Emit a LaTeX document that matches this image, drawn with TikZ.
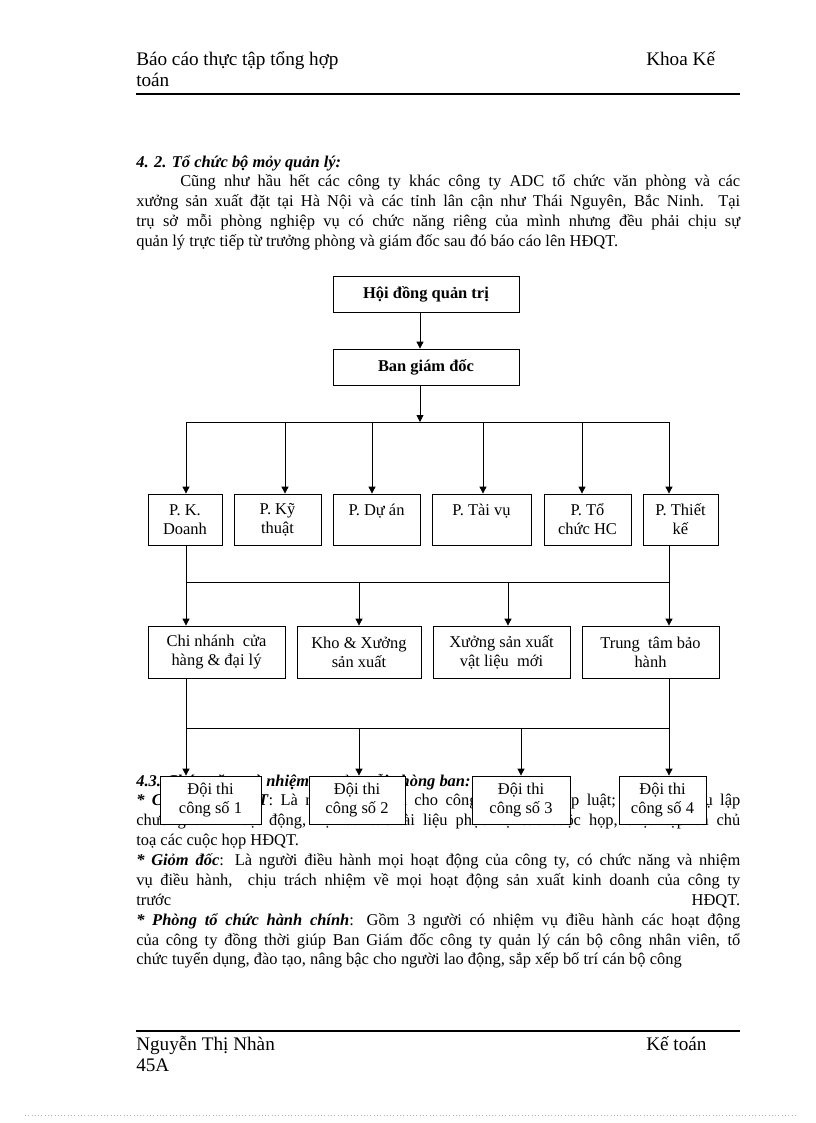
\documentclass[tikz,border=0pt]{standalone}
\usepackage{fontspec}
\setmainfont{Liberation Serif}
\usetikzlibrary{arrows.meta,positioning,calc}
\newcommand{\pxu}{0.7295pt}
\tikzset{
  orgbox/.style={draw=black,line width=0.6pt,fill=white,align=center,inner sep=0pt,
    font=\fontsize{12}{14}\selectfont},
  topbox/.style={orgbox,font=\fontsize{12}{14}\selectfont\bfseries},
  boxsize/.style 2 args={minimum width=#1*\pxu,minimum height=#2*\pxu},
  flowarrow/.style={-{Triangle[length=5pt,width=5pt]},line width=0.6pt},
  flowline/.style={line width=0.6pt},
  pagetext/.style={font=\fontsize{12}{14.5}\selectfont,text width=440.6pt,align=justify,
    inner sep=0pt,anchor=base west},
  headtext/.style={font=\fontsize{14}{16}\selectfont,inner sep=0pt,anchor=base west}
}
\newcommand{\bi}[1]{\textbf{\textit{#1}}}

\begin{document}
\begin{tikzpicture}[x=0.7295pt,y=-0.7295pt]
  \path[use as bounding box,fill=white] (0,0) rectangle (816,1123);

  % header and footer of the page
  \node[headtext] (htitle) at (136,65) {Báo cáo thực tập tổng hợp};
  \node[headtext] (htoan) at (136,86) {toán};
  \node[headtext] (hkhoa) at (646,65) {Khoa Kế};
  \draw[line width=1.1pt] (136,94) -- (740,94);
  \draw[line width=1.1pt] (136,1031) -- (740,1031);
  \node[headtext] (fname) at (136,1050) {Nguyễn Thị Nhàn};
  \node[headtext] (fclass) at (136,1071) {45A};
  \node[headtext] (fdept) at (646,1050) {Kế toán};
  \draw[black!30,dotted] (25,1115) -- (795,1115);

  % body text above and below the chart
  \node[pagetext] (intro) at (136,167) {\bi{4. 2. Tổ chức bộ mỏy quản lý:}\par
    \hspace*{32.1pt}Cũng như hầu hết các công ty khác công ty ADC tổ chức văn phòng và các\linebreak
    xưởng sản xuất đặt tại Hà Nội và các tỉnh lân cận như Thái Nguyên, Bắc Ninh. Tại\linebreak
    trụ sở mỗi phòng nghiệp vụ có chức năng riêng của mình nhưng đều phải chịu sự\linebreak
    quản lý trực tiếp từ trưởng phòng và giám đốc sau đó báo cáo lên HĐQT.};
  \node[pagetext] (duties) at (136,786) {\bi{4.3. Chức năng và nhiệm vụ của mỗi phòng ban:}\par
    \bi{* Chủ tịch HĐQT}: Là người đại diện cho công ty trước pháp luật; có nhiệm vụ lập\linebreak
    chương trình hoạt động, hội đủ các tài liệu phục vụ các cuộc họp, triệu tập và chủ\linebreak
    toạ các cuộc họp HĐQT.\par
    \bi{* Giỏm đốc}: Là người điều hành mọi hoạt động của công ty, có chức năng và nhiệm\linebreak
    vụ điều hành,\ \ chịu trách nhiệm về mọi hoạt động sản xuất kinh doanh của công ty\linebreak
    trước\hfill HĐQT.\par
    \bi{* Phòng tổ chức hành chính}: Gồm 3 người có nhiệm vụ điều hành các hoạt động\linebreak
    của công ty đồng thời giúp Ban Giám đốc công ty quản lý cán bộ công nhân viên, tổ\linebreak
    chức tuyển dụng, đào tạo, nâng bậc cho người lao động, sắp xếp bố trí cán bộ công\par};

  % top of the chart
  \node[topbox,boxsize={186}{36}] (hdqt) at (426,294) {Hội đồng quản trị};
  \node[topbox,boxsize={186}{36}] (bgd) at (426,367) {Ban giám đốc};

  % departments
  \node[orgbox,boxsize={74}{51}] (kd) at (185,519.5) {P. K.\\Doanh};
  \node[orgbox,boxsize={87}{51}] (kt) at (277.5,519.5) {P. Kỹ\\thuật};
  \node[orgbox,boxsize={87}{51}] (da) at (376.5,519.5) {P. Dự án\\\mbox{}};
  \node[orgbox,boxsize={99}{51}] (tv) at (481.5,519.5) {P. Tài vụ\\\mbox{}};
  \node[orgbox,boxsize={87}{51}] (tc) at (587.5,519.5) {P. Tổ\\chức HC};
  \node[orgbox,boxsize={75}{51}] (tk) at (680.5,519.5) {P. Thiết\\kế};

  % branches and workshops
  \node[orgbox,boxsize={137}{52}] (cn) at (216.5,652) {Chi nhánh\ \ cửa\\hàng \& đại lý};
  \node[orgbox,boxsize={124}{52}] (kho) at (359,652) {Kho \& Xưởng\\sản xuất};
  \node[orgbox,boxsize={137}{52}] (xsx) at (501.5,652) {Xưởng sản xuất\\vật liệu\ \ mới};
  \node[orgbox,boxsize={137}{52}] (ttbh) at (650.5,652) {Trung\ \ tâm bảo\\hành};

  % construction teams
  \node[orgbox,boxsize={101}{48}] (d1) at (210.5,800) {Đội thi\\công số 1};
  \node[orgbox,boxsize={96}{48}] (d2) at (357,800) {Đội thi\\công số 2};
  \node[orgbox,boxsize={98}{48}] (d3) at (521,800) {Đội thi\\công số 3};
  \node[orgbox,boxsize={87}{48}] (d4) at (662.5,800) {Đội thi\\công số 4};

  % connectors
  \coordinate (trunk) at (420,422);
  \draw[flowarrow] (hdqt.south -| trunk) -- (bgd.north -| trunk);
  \draw[flowarrow] (bgd.south -| trunk) -- (trunk);
  \foreach \n/\x in {kd/186,kt/285,da/372,tv/483,tc/582,tk/669}
    \coordinate (a\n) at (\x,422);
  \draw[flowline] (akd) -- (atk);
  \foreach \n in {kd,kt,da,tv,tc,tk}
    \draw[flowarrow] (a\n) -- (\n.north -| a\n);

  \foreach \n/\x in {cn/186,kho/359,xsx/508,ttbh/669}
    \coordinate (b\n) at (\x,582);
  \draw[flowline] (kd.south -| bcn) -- (bcn) -- (bttbh) -- (tk.south -| bttbh);
  \foreach \n in {cn,kho,xsx,ttbh}
    \draw[flowarrow] (b\n) -- (\n.north -| b\n);

  \foreach \n/\x in {d1/186,d2/359,d3/521,d4/669}
    \coordinate (c\n) at (\x,728);
  \draw[flowline] (cn.south -| cd1) -- (cd1) -- (cd4) -- (ttbh.south -| cd4);
  \foreach \n in {d1,d2,d3,d4}
    \draw[flowarrow] (c\n) -- (\n.north -| c\n);
\end{tikzpicture}
\end{document}
